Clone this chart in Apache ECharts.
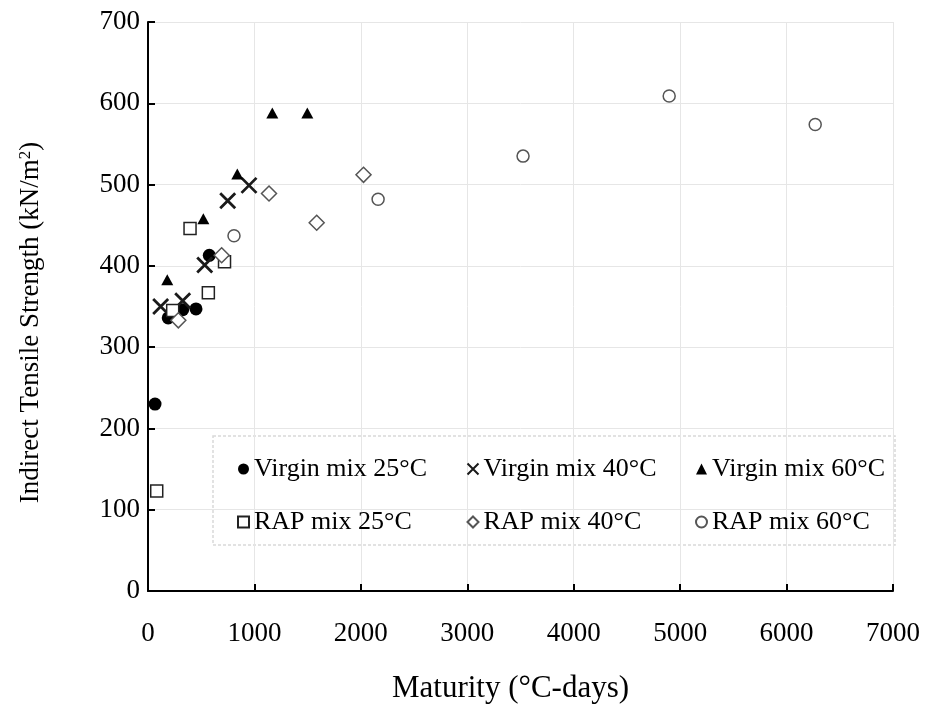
<!DOCTYPE html>
<html>
<head>
<meta charset="utf-8">
<script src="https://cdn.jsdelivr.net/npm/echarts@6/dist/echarts.min.js"></script>
<style>
  html, body { margin: 0; padding: 0; background: #fff; }
  #main { width: 927px; height: 706px; }
</style>
</head>
<body>
<div id="main"></div>
<script>
// maturity (°C-days), strength (kN/m2)
var virgin25 = [[66, 230], [190, 336], [326, 346], [451, 347], [576, 413]];
var virgin40 = [[119, 350], [326, 357], [533, 401], [749, 480], [949, 499]];
var virgin60 = [[181, 383], [520, 458], [839, 513], [1168, 588], [1497, 588]];
var rap25 = [[82, 123], [232, 345], [395, 446], [567, 367], [719, 405]];
var rap40 = [[285, 333], [692, 413], [1137, 489], [1585, 453], [2025, 512]];
var rap60 = [[808, 437], [2162, 482], [3524, 535], [4897, 609], [6269, 574]];

var names = ['Virgin mix 25°C', 'Virgin mix 40°C', 'Virgin mix 60°C',
             'RAP mix 25°C', 'RAP mix 40°C', 'RAP mix 60°C'];

var font = 'Liberation Serif';
var crossPath = 'path://M0,0L10,10M10,0L0,10';

var dom = document.getElementById('main');
var chart = echarts.init(dom);

function plain(v) { return String(v); }

function legendCol(items, left) {
    return {
        data: items,
        orient: 'vertical',
        left: left,
        top: 451,
        itemGap: 27,
        itemWidth: 11,
        itemHeight: 11,
        textStyle: { fontFamily: font, fontSize: 26, color: '#000', padding: [0, 0, 0, 0] },
        selectedMode: false
    };
}

var option = {
    animation: false,
    backgroundColor: '#fff',
    grid: { left: 148, right: 34, top: 22, bottom: 115, outerBoundsMode: 'none' },
    xAxis: {
        type: 'value',
        min: 0, max: 7000, interval: 1000,
        name: 'Maturity (°C-days)',
        nameLocation: 'middle',
        nameGap: 82,
        nameTextStyle: { fontFamily: font, fontSize: 31, color: '#000', padding: [0, 20, 0, 0] },
        axisLine: { lineStyle: { color: '#000', width: 2 } },
        axisTick: { inside: true, length: 7, lineStyle: { color: '#000', width: 2 } },
        axisLabel: { fontFamily: font, fontSize: 27, color: '#000', margin: 29, formatter: plain },
        splitLine: { show: true, lineStyle: { color: '#e6e6e6', width: 1 } }
    },
    yAxis: {
        type: 'value',
        min: 0, max: 700, interval: 100,
        name: 'Indirect Tensile Strength (kN/m{sup|2})',
        nameLocation: 'middle',
        nameGap: 104,
        nameTextStyle: {
            fontFamily: font, fontSize: 27, color: '#000', padding: [0, 32, 0, 0],
            rich: { sup: { fontFamily: font, fontSize: 17, color: '#000', verticalAlign: 'top', lineHeight: 17, padding: [0, 0, 10, 0] } }
        },
        axisLine: { show: true, lineStyle: { color: '#000', width: 2 } },
        axisTick: { show: true, inside: true, length: 7, lineStyle: { color: '#000', width: 2 } },
        axisLabel: { fontFamily: font, fontSize: 27, color: '#000', margin: 8, formatter: plain },
        splitLine: { show: true, lineStyle: { color: '#e6e6e6', width: 1 } }
    },
    legend: [
        legendCol([names[0], names[3]], 232),
        legendCol([names[1], names[4]], 460),
        legendCol([names[2], names[5]], 690)
    ],
    graphic: [{
        type: 'rect',
        shape: { x: 213, y: 436, width: 682, height: 109 },
        style: { fill: 'none', stroke: '#d9d9d9', lineWidth: 1.5, lineDash: [3, 2] },
        silent: true
    }],
    series: [
        {
            name: names[0], type: 'scatter', data: virgin25,
            symbol: 'circle', symbolSize: 13,
            itemStyle: { color: '#000', opacity: 1 }
        },
        {
            name: names[1], type: 'scatter', data: virgin40,
            symbol: crossPath, symbolSize: 15,
            itemStyle: { color: 'none', borderColor: '#1a1a1a', borderWidth: 2.8, opacity: 1 }
        },
        {
            name: names[2], type: 'scatter', data: virgin60,
            symbol: 'triangle', symbolSize: [12, 11],
            itemStyle: { color: '#000', opacity: 1 }
        },
        {
            name: names[3], type: 'scatter', data: rap25,
            symbol: 'rect', symbolSize: 12,
            itemStyle: { color: '#fff', borderColor: '#222', borderWidth: 1.5, opacity: 1 }
        },
        {
            name: names[4], type: 'scatter', data: rap40,
            symbol: 'diamond', symbolSize: 15,
            itemStyle: { color: '#fff', borderColor: '#555', borderWidth: 1.5, opacity: 1 }
        },
        {
            name: names[5], type: 'scatter', data: rap60,
            symbol: 'circle', symbolSize: 12,
            itemStyle: { color: '#fff', borderColor: '#555', borderWidth: 1.5, opacity: 1 }
        }
    ]
};
chart.setOption(option);
</script>
</body>
</html>
